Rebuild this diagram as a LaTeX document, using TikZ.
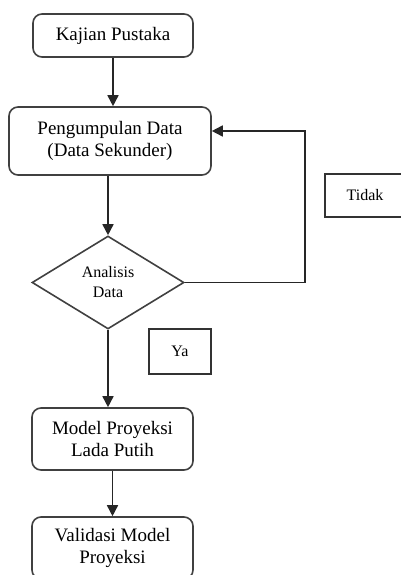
\documentclass[tikz,border=0pt]{standalone}
\usepackage{fontspec}
\setmainfont{Liberation Serif}
\usetikzlibrary{shapes.geometric,arrows.meta}

\begin{document}
\begin{tikzpicture}[x=1pt,y=-1pt,line width=1.6pt,draw=black!80,
    box/.style={draw=black!75,rounded corners=9pt,align=center,inner sep=0pt,
      font=\rmfamily\fontsize{19}{22}\selectfont},
    decision/.style={draw=black!75,diamond,inner sep=0pt,align=center,
      minimum width=152pt,minimum height=93pt,font=\rmfamily\fontsize{16}{20}\selectfont},
    note/.style={draw=black!80,align=center,inner sep=0pt,
      font=\rmfamily\fontsize{16}{20}\selectfont},
    arr/.style={draw=black!85,-{Triangle[length=11pt,width=11pt]}}]
    \useasboundingbox (0,0) rectangle (401,575);

    \node[box,minimum width=160pt,minimum height=43pt] (kajian) at (113,35.5) {Kajian Pustaka};
    \node[box,minimum width=202pt,minimum height=68pt] (pengumpulan) at (110,141)
      {Pengumpulan Data\\(Data Sekunder)};
    \node[decision] (analisis) at (108,282.5) {Analisis\\Data};
    \node[note,minimum width=80pt,minimum height=43pt] (tidak) at (365,195.5) {Tidak};
    \node[note,minimum width=62pt,minimum height=45pt] (ya) at (180,351.5) {Ya};
    \node[box,minimum width=161pt,minimum height=62pt] (model) at (112.5,439)
      {Model Proyeksi\\Lada Putih};
    \node[box,minimum width=161pt,minimum height=62pt] (validasi) at (112.5,548)
      {Validasi Model\\Proyeksi};

    \coordinate (loop) at (305,131);

    \draw[arr] (kajian) -- (kajian.south |- pengumpulan.north);
    \draw[arr] (analisis.north |- pengumpulan.south) -- (analisis.north);
    \draw[arr] (analisis.east) -| (loop) -- (loop -| pengumpulan.east);
    \draw[arr] (analisis.south) -- (analisis.south |- model.north);
    \draw[arr] (model) -- (validasi);
\end{tikzpicture}
\end{document}
